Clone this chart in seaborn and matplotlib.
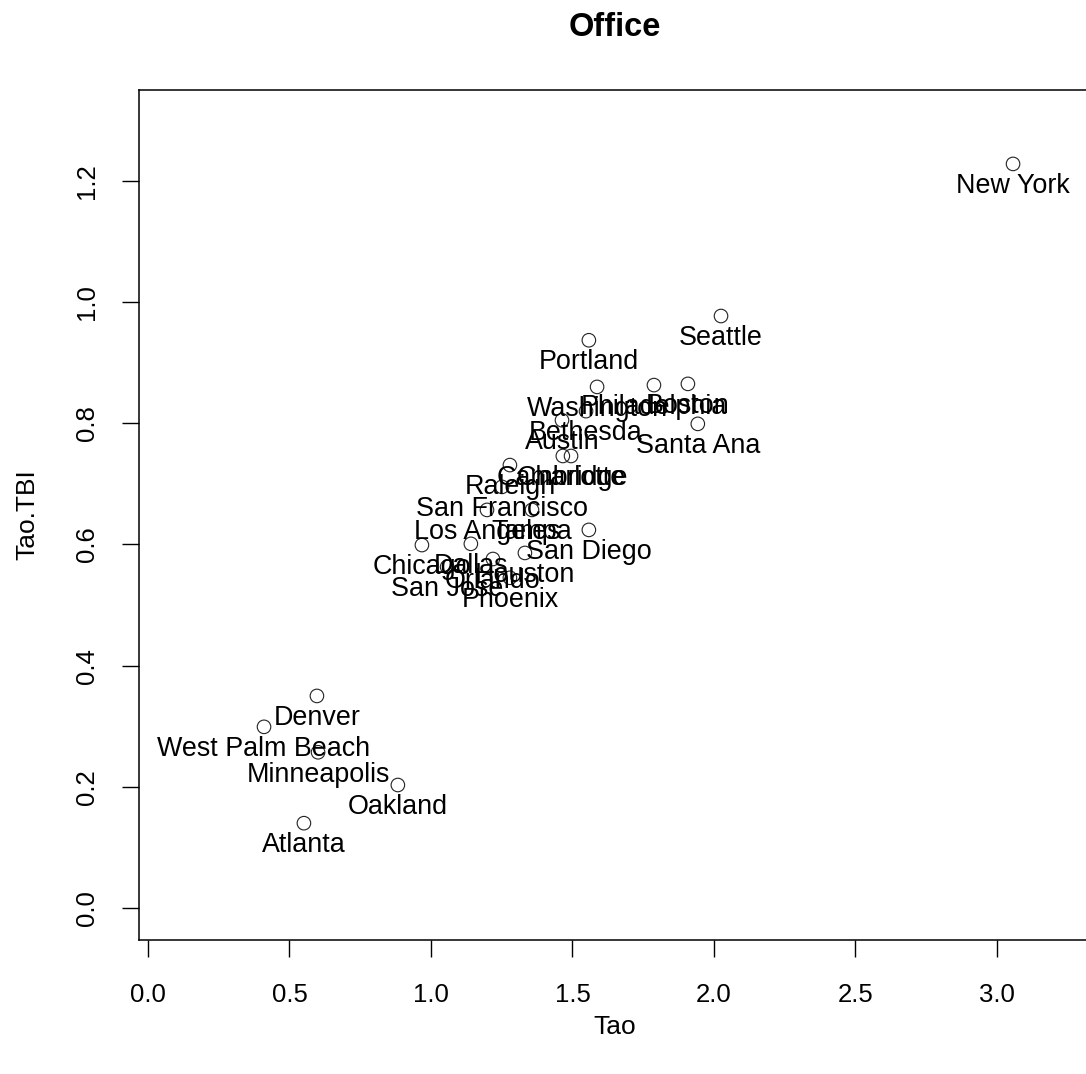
import numpy as np
import pandas as pd
import matplotlib
matplotlib.use("Agg")
import matplotlib.pyplot as plt
import seaborn as sns

cities = ["New York", "Seattle", "Portland", "Philadelphia", "Boston", "Washington",
          "Bethesda", "Austin", "Santa Ana", "Cambridge", "Charlotte", "Raleigh",
          "San Francisco", "Los Angeles", "Tampa", "San Diego", "Chicago", "Dallas",
          "Houston", "Orlando", "San Jose", "Phoenix", "Denver", "West Palm Beach",
          "Minneapolis", "Oakland", "Atlanta"]
tao = [3.057, 2.025, 1.558, 1.788, 1.908, 1.587,
       1.548, 1.463, 1.943, 1.466, 1.495, 1.279,
       1.251, 1.198, 1.357, 1.558, 0.968, 1.141,
       1.332, 1.219, 1.057, 1.279, 0.597, 0.410,
       0.601, 0.883, 0.551]
tao_tbi = [1.228, 0.977, 0.937, 0.863, 0.865, 0.860,
           0.820, 0.805, 0.799, 0.746, 0.746, 0.731,
           0.695, 0.657, 0.657, 0.624, 0.599, 0.601,
           0.586, 0.576, 0.563, 0.545, 0.350, 0.299,
           0.257, 0.203, 0.140]
x_ticks = [0.0, 0.5, 1.0, 1.5, 2.0, 2.5, 3.0]
y_ticks = [0.0, 0.2, 0.4, 0.6, 0.8, 1.0, 1.2]

df = pd.DataFrame({"City": cities, "Tao": tao, "Tao.TBI": tao_tbi})

sns.set_style("white")
plt.rcParams["font.family"] = ["Liberation Sans", "DejaVu Sans"]
plt.rcParams["text.color"] = "black"
plt.rcParams["axes.labelcolor"] = "black"
plt.rcParams["xtick.color"] = "black"
plt.rcParams["ytick.color"] = "black"

W, H = 1086, 1074
fig = plt.figure(figsize=(W / 100, H / 100), dpi=100)
left, right, top, bottom = 139, 1090, 90, 940
ax = fig.add_axes([left / W, (H - bottom) / H, (right - left) / W, (bottom - top) / H])

sns.scatterplot(data=df, x="Tao", y="Tao.TBI", ax=ax, marker="o", s=95,
                color="black", linewidth=0.8, zorder=3)
coll = ax.collections[0]
coll.set_facecolor("none")
coll.set_edgecolor("#222222")

for name, xv, yv in zip(cities, tao, tao_tbi):
    ax.annotate(name, (xv, yv), xytext=(0, -16.0), textcoords="offset points",
                ha="center", va="center", fontsize=19.4, color="black", zorder=4)

ax.set_xlim(-0.0318, 3.329)
ax.set_ylim(-0.0528, 1.350)
ax.set_xticks(x_ticks)
ax.set_xticklabels([f"{t:.1f}" for t in x_ticks])
ax.set_yticks(y_ticks)
ax.set_yticklabels([f"{t:.1f}" for t in y_ticks], rotation=90, va="center")

ax.tick_params(axis="both", direction="out", length=12.2, width=1.0, color="black",
               labelcolor="black", labelsize=18.5, bottom=True, left=True)
ax.tick_params(axis="x", pad=19)
ax.tick_params(axis="y", pad=16.5)

for sp in ax.spines.values():
    sp.set_color("black")
    sp.set_linewidth(1.1)

ax.set_xlabel("Tao", fontsize=19, color="black")
ax.set_ylabel("Tao.TBI", fontsize=19, color="black")
ax.xaxis.set_label_coords(0.5, (940 - 1027) / 850)
ax.xaxis.label.set_va("center")
ax.yaxis.set_label_coords((27 - 139) / 951, 0.5)
ax.yaxis.label.set_va("center")

ax.set_title("Office", fontsize=23.5, fontweight="bold", color="black",
             y=(940 - 28) / 850, va="center", pad=0)

fig.savefig("out.png", dpi=100, facecolor="white")
